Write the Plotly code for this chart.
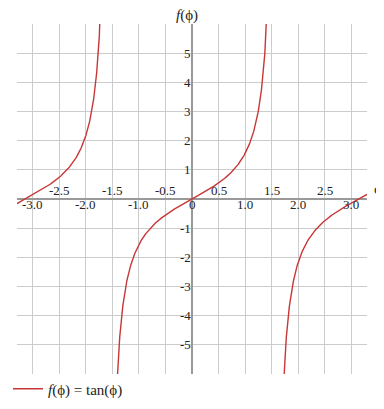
import numpy as np
import plotly.graph_objects as go

# ---- data ----
phi_range = [-3.3, 3.3]
y_range = [-6, 6]
x_grid_vals = [-3.0, -2.5, -2.0, -1.5, -1.0, -0.5, 0.5, 1.0, 1.5, 2.0, 2.5, 3.0]
x_labels_below_vals = [-3.0, -2.0, -1.0, 0.0, 1.0, 2.0, 3.0]
x_labels_below = ["-3.0", "-2.0", "-1.0", "0", "1.0", "2.0", "3.0"]
x_labels_above_vals = [-2.5, -1.5, -0.5, 0.5, 1.5, 2.5]
x_labels_above = ["-2.5", "-1.5", "-0.5", "0.5", "1.5", "2.5"]
y_tick_vals = [-5, -4, -3, -2, -1, 1, 2, 3, 4, 5]
y_tick_labels = ["-5", "-4", "-3", "-2", "-1", "1", "2", "3", "4", "5"]

# the plotted function f(phi) = tan(phi), as named in the legend
phi = np.linspace(phi_range[0], phi_range[1], 3000)
f_phi = np.tan(phi)
f_plot = [float(v) if abs(v) < 60 else None for v in f_phi]

SERIF = "Liberation Serif, Times New Roman, serif"
RED = "#c83737"
TXT = "#222222"

W, H = 376, 401  # page body has an 8px margin inside the 384x409 window

fig = go.Figure()
fig.add_trace(go.Scatter(
    x=phi, y=f_plot, mode="lines", connectgaps=False,
    line=dict(color=RED, width=1.4),
    name="<i>f</i>(ϕ) = tan(ϕ)", showlegend=True, hoverinfo="skip",
))

annotations = []
for v, t in zip(x_labels_below_vals, x_labels_below):
    annotations.append(dict(x=v, y=0, xref="x", yref="y", text=t, showarrow=False,
                            xanchor="center", yanchor="top", yshift=4,
                            font=dict(family=SERIF, size=13, color=TXT)))
for v, t in zip(x_labels_above_vals, x_labels_above):
    annotations.append(dict(x=v, y=0, xref="x", yref="y", text=t, showarrow=False,
                            xanchor="center", yanchor="bottom", yshift=-1,
                            font=dict(family=SERIF, size=13, color=TXT)))
for v, t in zip(y_tick_vals, y_tick_labels):
    annotations.append(dict(x=0, y=v, xref="x", yref="y", text=t, showarrow=False,
                            xanchor="right", yanchor="middle", xshift=1,
                            font=dict(family=SERIF, size=13, color=TXT)))
# axis titles
annotations.append(dict(x=0, y=1, xref="x", yref="paper", text="<i>f</i>(ϕ)", showarrow=False,
                        xanchor="center", yanchor="bottom", xshift=-5, yshift=-2,
                        font=dict(family=SERIF, size=15, color=TXT)))
annotations.append(dict(x=1, y=0, xref="paper", yref="y", text="φ", showarrow=False,
                        xanchor="left", yanchor="bottom", xshift=5, yshift=0,
                        font=dict(family=SERIF, size=15, color=TXT)))

fig.update_layout(
    width=W, height=H, autosize=False,
    margin=dict(l=9, r=17, t=16, b=35, autoexpand=False),
    paper_bgcolor="white", plot_bgcolor="white",
    xaxis=dict(range=phi_range, tickvals=x_grid_vals, showticklabels=False, ticks="",
               showgrid=True, gridcolor="#cccccc", gridwidth=1,
               zeroline=True, zerolinecolor="#999999", zerolinewidth=2,
               showline=False, fixedrange=True),
    yaxis=dict(range=y_range, tickvals=y_tick_vals, showticklabels=False, ticks="",
               showgrid=True, gridcolor="#cccccc", gridwidth=1,
               zeroline=True, zerolinecolor="#999999", zerolinewidth=2,
               showline=False, fixedrange=True),
    showlegend=True,
    legend=dict(xref="container", yref="container", x=0.0, xanchor="left",
                y=1 - 381 / H, yanchor="middle", orientation="h",
                bgcolor="rgba(0,0,0,0)", font=dict(family=SERIF, size=15, color=TXT)),
    annotations=annotations,
)

fig.write_html("out.html")
